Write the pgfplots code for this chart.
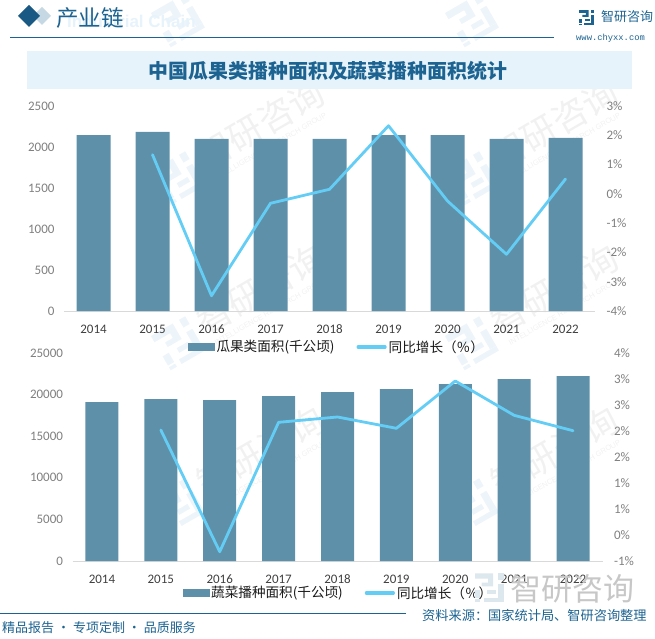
\documentclass[border=0pt]{standalone}
\usepackage{fontspec}
\usepackage{pgfplots}
\pgfplotsset{compat=1.18}
\setmainfont{Carlito}
\newfontfamily\cjk{Noto Sans CJK SC}
\newfontfamily\lib{Liberation Sans}
\newfontfamily\monof{Liberation Mono}
\definecolor{barc}{HTML}{5E91A9}
\definecolor{linec}{HTML}{64CDF5}
\definecolor{hdr}{HTML}{1C6391}
\definecolor{banner}{HTML}{E6F3FB}
\definecolor{ticky}{HTML}{7F7F7F}
\definecolor{tickx}{HTML}{404040}
\definecolor{wmg}{HTML}{F1F1F1}
\definecolor{wmb}{HTML}{EEF5FA}
\tikzset{
  logo/.pic={
    \fill[pic actions] (0,18)--(0,22)--(14,22)--(14,12)--(5,12)--(5,15)--(10,15)--(10,18)--cycle;
    \fill[pic actions] (0,9) rectangle (4,3);
    \fill[pic actions] (0,2) rectangle (4,0);
    \fill[pic actions] (7,0)--(22,0)--(22,3)--(7,3)--cycle;
    \fill[pic actions] (18,3) rectangle (22,14);
    \fill[pic actions] (9,6)--(16,6)--(16,9)--(9,9)--cycle;
    \fill[pic actions] (18,17) rectangle (22,22);
  }
}
\pgfplotsset{
  common/.style={
    scale only axis,
    /pgf/number format/assume math mode=true,
    /pgf/number format/1000 sep={},
    major tick length=0pt,
    clip=false,
    xtick=data,
    tick label style={font=\fontsize{13}{13}\selectfont},
    y axis line style={draw=none},
    legend cell align=left,
  },
  swatch/.style={legend image code/.code={
      \fill[barc] (0pt,-3.5pt) rectangle (26pt,3.5pt);}},
  lineleg/.style={legend image code/.code={
      \draw[linec,line width=3.2pt,line cap=round] (0pt,0pt) -- (27pt,0pt);}},
}
\begin{document}
\begin{tikzpicture}[x=1pt,y=1pt]
\path[use as bounding box] (0,0) rectangle (655,638);
% watermarks
\foreach \cx in {178,472}{
  \foreach \cy in {460,295,133}{
    \begin{scope}[shift={(\cx,\cy)},rotate=30]
      \path[fill=wmb] pic[scale=1.8,transform shape] at (-20,-20) {logo};
      \node[transform shape,text=wmg,font=\cjk\fontsize{35}{35}\selectfont,anchor=west,inner sep=0] at (28,5) {智研咨询};
      \node[transform shape,text=wmg,font=\lib\fontsize{7.5}{8}\selectfont,anchor=west,inner sep=0] at (32,-19) {INTELLIGENCE RESEARCH GROUP};
    \end{scope}
  }
  \begin{scope}[shift={(\cx,618)},rotate=30]
    \path[fill=wmb] pic[scale=1.8,transform shape] at (-20,-20) {logo};
  \end{scope}
}
% header
\fill[hdr!25!white] (33,622) -- (42,631) -- (51,622) -- (42,613) -- cycle;
\fill[hdr!90!black] (18,622) -- (29,633) -- (40,622) -- (29,611) -- cycle;
\node[text=banner,font=\lib\bfseries\fontsize{17}{17}\selectfont,anchor=west,inner sep=0] at (67,617) {Industrial Chain};
\node[text=hdr,font=\cjk\fontsize{22.5}{23}\selectfont,anchor=west,inner sep=0] at (56,620) {产业链};
\draw[hdr,line width=0.9pt] (10,601) -- (554,601);
\path[fill=hdr] pic[scale=0.68,transform shape] at (579,613) {logo};
\node[text=hdr,font=\cjk\fontsize{13}{13}\selectfont,anchor=west,inner sep=0] at (601,621) {智研咨询};
\node[text=hdr,font=\monof\fontsize{8.8}{9}\selectfont,anchor=west,inner sep=0] at (576,600) {www.chyxx.com};
\fill[banner] (27,549) rectangle (632,587);
\node[text=hdr,font=\cjk\bfseries\fontsize{19.9}{20}\selectfont,inner sep=0] at (328,567) {中国瓜果类播种面积及蔬菜播种面积统计};
% top chart
\begin{axis}[common,at={(64pt,327pt)},anchor=south west,width=531pt,height=205pt,
  xmin=2013.5,xmax=2022.5,ymin=0,ymax=2500,ytick={0,500,...,2500},
  axis x line*=bottom,axis y line*=left,
  x axis line style={draw=black!15,line width=0.8pt,-},
  y tick label style={text=ticky,xshift=-6pt},
  x tick label style={text=tickx,yshift=-10pt,text height=9pt,text depth=0pt},
  ybar,bar width=34pt]
\addplot[fill=barc,draw=none,bar shift=0pt] coordinates {
 (2014,2146)(2015,2183)(2016,2098)(2017,2098)(2018,2098)
 (2019,2146)(2020,2146)(2021,2098)(2022,2110)};
\end{axis}
\begin{axis}[common,at={(64pt,327pt)},anchor=south west,width=531pt,height=205pt,
  xmin=2013.5,xmax=2022.5,ymin=-4,ymax=3,ytick={-4,-3,...,3},
  axis y line*=right,axis x line=none,
  yticklabel={\pgfmathprintnumber{\tick}\%},
  y tick label style={text=ticky,xshift=8pt},
  legend style={draw=none,fill=none,at={(273pt,-36pt)},anchor=center,
    legend columns=-1,font=\cjk\fontsize{13.6}{13}\selectfont,text=black!90,
    /tikz/every even column/.append style={column sep=20pt},inner sep=0pt},
  ]
\addlegendimage{swatch}
\addlegendentry{瓜果类面积(千公顷)}
\addplot[linec,line width=2.8pt,line join=round,line cap=round,lineleg] coordinates {
 (2015,1.337)(2016,-3.478)(2017,-0.322)(2018,0.156)(2019,2.327)
 (2020,-0.244)(2021,-2.064)(2022,0.507)};
\addlegendentry{同比增长（％）}
\end{axis}
% bottom chart
\begin{axis}[common,at={(72.5pt,77pt)},anchor=south west,width=530pt,height=208pt,
  xmin=2013.5,xmax=2022.5,ymin=0,ymax=25000,ytick={0,5000,...,25000},
  axis x line*=bottom,axis y line*=left,
  x axis line style={draw=black!15,line width=0.8pt,-},
  y tick label style={text=ticky,xshift=-6pt},
  x tick label style={text=tickx,yshift=-10pt,text height=9pt,text depth=0pt},
  scaled y ticks=false,
  ybar,bar width=33pt]
\addplot[fill=barc,draw=none,bar shift=0pt] coordinates {
 (2014,19111)(2015,19471)(2016,19351)(2017,19832)(2018,20313)
 (2019,20673)(2020,21274)(2021,21875)(2022,22236)};
\end{axis}
\begin{axis}[common,at={(72.5pt,77pt)},anchor=south west,width=530pt,height=208pt,
  xmin=2013.5,xmax=2022.5,ymin=-1,ymax=4,
  ytick={-1,-0.375,0.25,0.875,1.5,2.125,2.75,3.375,4},
  yticklabels={-1\%,0\%,1\%,1\%,2\%,2\%,3\%,3\%,4\%},
  axis y line*=right,axis x line=none,
  y tick label style={text=ticky,xshift=8pt},
  legend style={draw=none,fill=none,at={(266pt,-32pt)},anchor=center,
    legend columns=-1,font=\cjk\fontsize{13.6}{13}\selectfont,text=black!90,
    /tikz/every even column/.append style={column sep=20pt},inner sep=0pt},
  ]
\addlegendimage{swatch}
\addlegendentry{蔬菜播种面积(千公顷)}
\addplot[linec,line width=2.8pt,line join=round,line cap=round,lineleg] coordinates {
 (2015,2.149)(2016,-0.776)(2017,2.334)(2018,2.462)(2019,2.19)
 (2020,3.327)(2021,2.502)(2022,2.132)};
\addlegendentry{同比增长（％）}
\end{axis}
% footer
\path[fill=hdr!15!white] pic[scale=1.3,transform shape] at (475,36) {logo};
\node[text=black!22,font=\cjk\fontsize{31}{31}\selectfont,anchor=west,inner sep=0] at (510,49) {智研咨询};
\draw[hdr,line width=0.9pt] (0,25) -- (406,25);
\node[text=hdr,font=\cjk\fontsize{13.2}{14}\selectfont,anchor=west,inner sep=0] at (422,23) {资料来源：国家统计局、智研咨询整理};
\node[text=hdr,font=\cjk\fontsize{13}{14}\selectfont,anchor=west,inner sep=0] at (2,10) {精品报告 · 专项定制 · 品质服务};
\end{tikzpicture}
\end{document}
